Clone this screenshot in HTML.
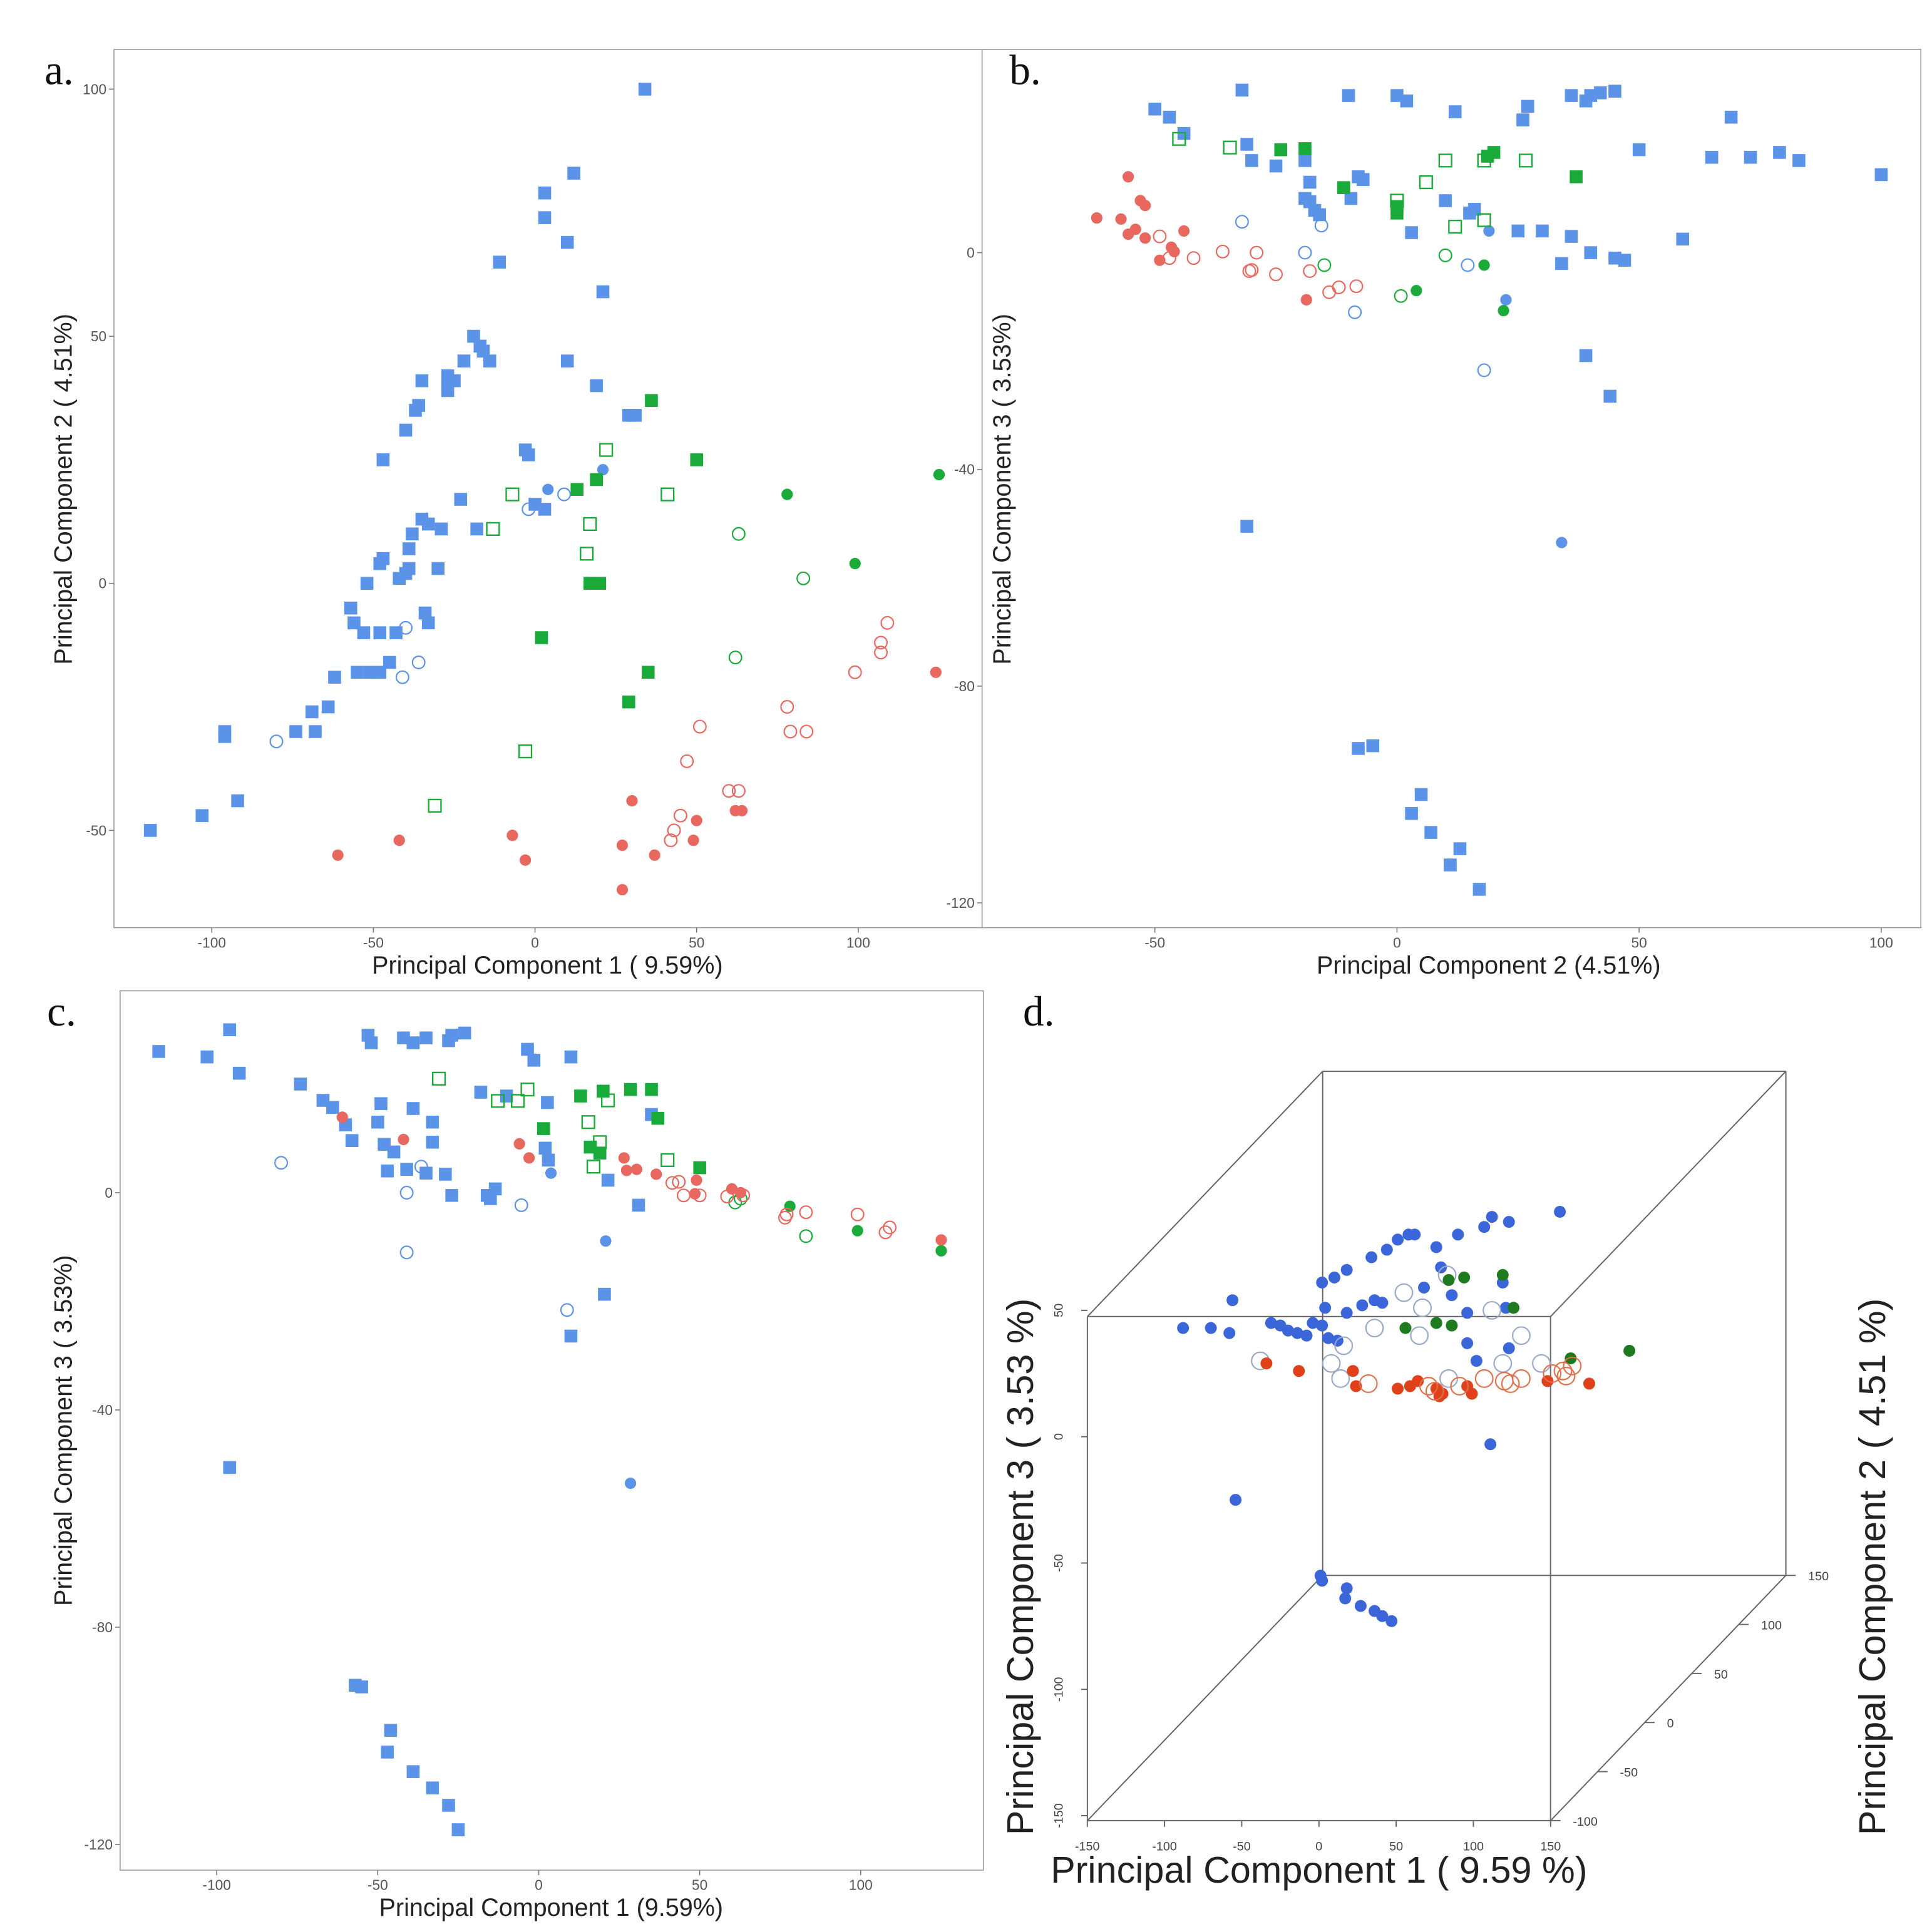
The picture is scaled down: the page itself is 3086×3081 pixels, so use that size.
<!DOCTYPE html>
<html><head><meta charset="utf-8"><style>
html,body{margin:0;padding:0;background:#fff;}
svg{display:block;}
text{font-family:"Liberation Sans",sans-serif;}
</style></head><body>
<svg id="fig" width="3086" height="3081" viewBox="0 0 1560 1557.5" preserveAspectRatio="none" xmlns="http://www.w3.org/2000/svg">
<rect x="0" y="0" width="1560" height="1557.5" fill="#fff"/>
</svg>
<script>
// ---------- Panel a: PC1 vs PC2 ----------
const aBlueSq=[[34,100],[12,83],[3,79],[3,74],[10,69],[-11,65],[21,59],[-19,50],[-17,48],[-16,47],[-14,45],[-22,45],[-25,41],[-27,42],[-27,40],[-27,39],[-35,41],[-36,36],[-37,35],[-40,31],[-47,25],[10,45],[19,40],[29,34],[31,34],[-3,27],[-2,26],[0,16],[3,15],[-18,11],[-23,17],[-35,13],[-33,12],[-29,11],[-38,10],[-39,7],[-39,3],[-30,3],[-48,4],[-47,5],[-52,0],[-42,1],[-40,2],[-34,-6],[-33,-8],[-57,-5],[-56,-8],[-53,-10],[-48,-10],[-43,-10],[-45,-16],[-48,-18],[-51,-18],[-49,-18],[-55,-18],[-62,-19],[-64,-25],[-69,-26],[-68,-30],[-74,-30],[-96,-30],[-96,-31],[-92,-44],[-103,-47],[-119,-50]];
const aBlueC=[[4,19],[21,23]];
const aBlueO=[[-2,15],[9,18],[-40,-9],[-36,-16],[-41,-19],[-80,-32]];
const aGreenSq=[[36,37],[13,19],[19,21],[50,25],[17,0],[18,0],[20,0],[2,-11],[35,-18],[29,-24]];
const aGreenSqO=[[22,27],[-7,18],[41,18],[-13,11],[17,12],[16,6],[-3,-34],[-31,-45]];
const aGreenC=[[78,18],[125,22],[99,4]];
const aGreenO=[[63,10],[83,1],[62,-15]];
const aRedC=[[-61,-55],[-42,-52],[-7,-51],[-3,-56],[30,-44],[27,-53],[37,-55],[49,-52],[50,-48],[62,-46],[64,-46],[27,-62],[124,-18]];
const aRedO=[[109,-8],[107,-12],[107,-14],[99,-18],[78,-25],[79,-30],[84,-30],[51,-29],[47,-36],[60,-42],[63,-42],[45,-47],[43,-50],[42,-52]];
const aXTicks=[-100,-50,0,50,100];
const aYTicks=[100,50,0,-50];

// ---------- Panel b: PC2 vs PC3 ----------
const bBlueSq=[[-32,30],[-50,26.5],[-47,25],[-44,22],[-10,29],[0,29],[2,28],[12,26],[27,27],[26,24.5],[36,29],[39,28],[40,29],[42,29.5],[45,29.8],[69,25],[50,19],[65,17.6],[73,17.6],[79,18.5],[83,17],[100,14.4],[-31,20],[-30,17],[-24,19],[-25,16],[-19,17],[-18,13],[-19,10],[-18,9.4],[-17,7.8],[-16,7],[-8,14],[-7,13.5],[-9.5,10],[3,3.7],[10,9.6],[15,7.3],[16,8],[25,4],[30,4],[36,3],[34,-2],[40,0],[45,-1],[47,-1.4],[59,2.5],[39,-19],[44,-26.5],[-31,-50.5],[-8,-91.5],[-5,-91],[5,-100],[3,-103.5],[7,-107],[13,-110],[11,-113],[17,-117.5]];
const bBlueC=[[19,4],[22.5,-8.7],[34,-53.5]];
const bBlueO=[[-32,5.7],[-15.6,5],[-19,0],[-8.7,-11],[14.6,-2.3],[18,-21.7]];
const bGreenSq=[[-24,19],[-19,19.2],[-11,12],[0,8.5],[0,7.3],[18.7,17.8],[20,18.5],[37,14]];
const bGreenSqO=[[-45,21],[-34.5,19.4],[0,9.6],[6,13],[10,17],[18,17],[26.6,17],[12,4.8],[18,6]];
const bGreenC=[[4,-7],[18,-2.3],[22,-10.7]];
const bGreenO=[[-15,-2.3],[10,-0.5],[0.8,-8]];
const bRedC=[[-62,6.4],[-55.5,14],[-57,6.2],[-55.5,3.4],[-54,4.3],[-53,9.6],[-52,8.7],[-52,2.7],[-49,-1.4],[-46.6,1],[-46,0.2],[-44,4],[-18.7,-8.7]];
const bRedO=[[-49,3],[-47,-1],[-42,-1],[-36,0.2],[-29,0],[-30,-3.2],[-30.5,-3.4],[-25,-4],[-18,-3.4],[-14,-7.3],[-12,-6.4],[-8.4,-6.2]];
const bXTicks=[-50,0,50,100];
const bYTicks=[0,-40,-80,-120];

// ---------- Panel c: PC1 vs PC3 ----------
const cBlueSq=[[-118,26],[-103,25],[-96,30],[-93,22],[-74,20],[-67,17],[-64,15.7],[-60,12.5],[-58,9.6],[-53,29],[-52,27.6],[-42,28.5],[-39,27.6],[-35,28.5],[-28,28],[-27,29],[-23,29.4],[-3.5,26.4],[-1.5,24.4],[10,25],[-49,16.4],[-39,15.5],[-33,13],[-33,9.3],[-50,13],[-48,8.9],[-45,7.5],[-47,4],[-41,4.3],[-35,3.6],[-29,3.4],[-27,-0.5],[-18,18.5],[-10,17.8],[-13.5,0.7],[-15,-1.1],[-16,-0.5],[2.7,16.6],[2,8.2],[3,6],[21.5,2.3],[31,-2.3],[35,14.4],[20.4,-18.7],[10,-26.4],[-96,-50.6],[-57,-90.7],[-55,-91],[-46,-99],[-47,-103],[-39,-106.6],[-33,-109.6],[-28,-112.8],[-25,-117.3]];
const cBlueC=[[3.8,3.6],[20.8,-8.9],[28.5,-53.5]];
const cBlueO=[[-80,5.5],[-36.5,4.8],[-41,0],[-5.4,-2.3],[-41,-11],[8.8,-21.6]];
const cGreenSq=[[13,17.8],[20,18.7],[28.5,19],[35,19],[37,13.7],[1.5,11.8],[16,8.4],[19,7.3],[50,4.6]];
const cGreenSqO=[[-31,21],[-12.7,16.9],[-6.5,16.9],[-3.5,19],[21.5,17],[15.4,13],[19,9.3],[17,4.8],[40,6]];
const cGreenC=[[78,-2.5],[99,-7],[125,-10.7]];
const cGreenO=[[61,-1.8],[62.7,-1.1],[83,-8]];
const cRedC=[[-61,13.9],[-42,9.8],[-6,9],[-3,6.4],[26.5,6.4],[27.3,4.1],[30.4,4.3],[36.5,3.4],[49,2.3],[48.5,-0.2],[60,0.7],[62.7,0],[125,-8.7]];
const cRedO=[[43.5,2],[41.5,1.8],[45,-0.5],[50,-0.5],[58.5,-0.7],[63.5,-0.5],[76.5,-4.6],[77,-4],[83,-3.6],[99,-4],[107.7,-7.3],[109,-6.4]];
const cXTicks=[-100,-50,0,50,100];
const cYTicks=[0,-40,-80,-120];

// ---------- Panel d: 3D (projected PC1 / PC3) ----------
const dBlue=[[156,89],[123,85],[112,87],[107,83],[90,80],[76,75],[62,80],[58,80],[51,78],[44,74],[34,71],[18,66],[10,63],[2,61],[79,67],[68,59],[86,56],[119,61],[41,53],[28,52],[18,49],[4,51],[-4,45],[2,44],[6,39],[12,38],[-31,45],[-25,44],[-20,42],[-14,41],[-8,40],[-56,54],[-88,43],[-70,43],[-58,41],[96,37],[102,30],[123,35],[111,-3],[-54,-25],[1,-55],[2,-57],[18,-60],[17,-64],[27,-67],[36,-69],[41,-71],[47,-73],[36,54],[121,51],[96,49]];
const dBlueO=[[16,36],[36,43],[65,40],[55,57],[67,51],[112,50],[131,40],[-38,30],[8,29],[14,23],[84,23],[119,29],[144,29],[83,64]];
const dGreen=[[84,62],[94,63],[119,64],[126,51],[76,45],[86,44],[56,43],[163,31],[201,34]];
const dRed=[[-34,29],[-13,26],[22,26],[24,20],[51,19],[59,20],[64,22],[76,19],[80,17],[96,20],[99,17],[148,22],[175,21],[78,16]];
const dRedO=[[32,21],[71,20],[75,18],[91,20],[107,23],[120,22],[124,21],[151,25],[158,26],[164,28],[160,24],[131,23]];
const dXTicks=[-150,-100,-50,0,50,100,150];
const dYTicks=[50,0,-50,-100,-150];
const dZTicks=[-100,-50,0,50,100,150];

const NS="http://www.w3.org/2000/svg";
const svg=document.getElementById('fig');
function mk(tag,attrs,parent){const e=document.createElementNS(NS,tag);for(const k in attrs)e.setAttribute(k,attrs[k]);(parent||svg).appendChild(e);return e;}
function txt(s,attrs,parent){const e=mk('text',attrs,parent);e.textContent=s;return e;}

const BLUE='#5b93e8',GREEN='#1aaa3a',RED='#e8675f';

function panel(id,cfg){
  const g=mk('g',{});
  
  
  const fr=mk('rect',{x:cfg.x0,y:cfg.y0,width:cfg.x1-cfg.x0,height:cfg.y1-cfg.y0,fill:'none',stroke:'#999','stroke-width':0.8},g);
  
  
  const sx=v=>cfg.px0+(v-cfg.vx0)*cfg.kx;
  const sy=v=>cfg.py0-(v-cfg.vy0)*cfg.ky;
  cfg.xt.forEach(t=>{
    mk('line',{x1:sx(t),x2:sx(t),y1:cfg.y1,y2:cfg.y1+4,stroke:'#777','stroke-width':0.8},g);
    const l=txt(String(t),{x:sx(t),y:cfg.y1+16,'font-size':11.5,fill:'#555','text-anchor':'middle'},g);
    
    
  });
  cfg.yt.forEach(t=>{
    mk('line',{x1:cfg.x0-4,x2:cfg.x0,y1:sy(t),y2:sy(t),stroke:'#777','stroke-width':0.8},g);
    const l=txt(String(t),{x:cfg.x0-6,y:sy(t)+4,'font-size':11.5,fill:'#555','text-anchor':'end'},g);
    
    
  });
  const xl=txt(cfg.xlab,{x:cfg.xlx,y:cfg.y1+37,'font-size':20,fill:'#222','text-anchor':'middle'},g);
  
  
  const yl=txt(cfg.ylab,{x:0,y:0,'font-size':20,fill:'#222','text-anchor':'middle',transform:`translate(${cfg.ylx},${cfg.yly}) rotate(-90)`},g);
  
  
  cfg.series.forEach(s=>{
    s.d.forEach(p=>{
      const X=sx(p[0]),Y=sy(p[1]);let m;
      if(s.sq){const h=s.open?5:5.2;m=mk('rect',{x:X-h,y:Y-h,width:2*h,height:2*h,fill:s.open?'none':s.c,stroke:s.c,'stroke-width':s.open?1.2:0},g);}
      else{m=mk('circle',{cx:X,cy:Y,r:s.open?5:4.6,fill:s.open?'none':s.c,stroke:s.c,'stroke-width':s.open?1.1:0},g);}
      
      
    });
  });
}
function ser(b,bc,bo,gs,gso,gc,go,rc,ro){return[
 {d:b,c:BLUE,sq:1,n:'blue-square-point'},{d:bc,c:BLUE,n:'blue-circle-point'},{d:bo,c:BLUE,open:1,n:'blue-open-circle-point'},
 {d:gs,c:GREEN,sq:1,n:'green-square-point'},{d:gso,c:GREEN,sq:1,open:1,n:'green-open-square-point'},
 {d:gc,c:GREEN,n:'green-circle-point'},{d:go,c:GREEN,open:1,n:'green-open-circle-point'},
 {d:rc,c:RED,n:'red-circle-point'},{d:ro,c:RED,open:1,n:'red-open-circle-point'}];}

panel('a',{x0:92,x1:793,y0:40,y1:749,px0:432,vx0:0,kx:2.61,py0:471,vy0:0,ky:3.99,xt:aXTicks,yt:aYTicks,
 xlab:'Principal Component 1 ( 9.59%)',xlx:442,ylab:'Principal Component 2 ( 4.51%)',ylx:58,yly:395,
 series:ser(aBlueSq,aBlueC,aBlueO,aGreenSq,aGreenSqO,aGreenC,aGreenO,aRedC,aRedO)});
panel('b',{x0:793,x1:1551,y0:40,y1:749,px0:1128,vx0:0,kx:3.91,py0:204,vy0:0,ky:4.375,xt:bXTicks,yt:bYTicks,
 xlab:'Principal Component 2 (4.51%)',xlx:1202,ylab:'Principal Component 3 ( 3.53%)',ylx:816,yly:395,
 series:ser(bBlueSq,bBlueC,bBlueO,bGreenSq,bGreenSqO,bGreenC,bGreenO,bRedC,bRedO)});
panel('c',{x0:97,x1:794,y0:800,y1:1510,px0:435,vx0:0,kx:2.6,py0:963,vy0:0,ky:4.385,xt:cXTicks,yt:cYTicks,
 xlab:'Principal Component 1 (9.59%)',xlx:445,ylab:'Principal Component 3 ( 3.53%)',ylx:58,yly:1155,
 series:ser(cBlueSq,cBlueC,cBlueO,cGreenSq,cGreenSqO,cGreenC,cGreenO,cRedC,cRedO)});

// Panel d box
(function(){
  const g=mk('g',{});
  
  
  const L=[[878,1063,1252,1063],[1252,1063,1252,1470],[1252,1470,878,1470],[878,1470,878,1063],
   [1068,865,1442,865],[1442,865,1442,1272],[1442,1272,1068,1272],[1068,1272,1068,865],
   [878,1063,1068,865],[1252,1063,1442,865],[1252,1470,1442,1272],[878,1470,1068,1272]];
  L.forEach(l=>{const e=mk('line',{x1:l[0],y1:l[1],x2:l[2],y2:l[3],stroke:'#666','stroke-width':1},g);
    });
  const sx=v=>1065+v*1.247, sy=v=>1160-v*2.04;
  dXTicks.forEach(t=>{mk('line',{x1:sx(t),x2:sx(t),y1:1470,y2:1475,stroke:'#666'},g);
    const l=txt(String(t),{x:sx(t),y:1494,'font-size':10,fill:'#444','text-anchor':'middle'},g);
    });
  dYTicks.forEach(t=>{mk('line',{x1:873,x2:878,y1:sy(t),y2:sy(t),stroke:'#666'},g);
    const l=txt(String(t),{x:0,y:0,'font-size':10,fill:'#444','text-anchor':'middle',transform:`translate(858,${sy(t)}) rotate(-90)`},g);
    });
  const zx=v=>1252+(v+100)/250*190+12, zy=v=>1470-(v+100)/250*198;
  dZTicks.forEach(t=>{mk('line',{x1:zx(t)-12,x2:zx(t)-4,y1:zy(t),y2:zy(t),stroke:'#666'},g);
    const l=txt(String(t),{x:zx(t)+6,y:zy(t)+4,'font-size':10,fill:'#444'},g);
    });
  const s=[{d:dBlue,c:'#3a66d9',n:'d-blue-point'},{d:dBlueO,c:'#9aa8c8',o:1,n:'d-open-point'},{d:dGreen,c:'#1e7a1e',n:'d-green-point'},{d:dRed,c:'#e0401a',n:'d-red-point'},{d:dRedO,c:'#e0704a',o:1,n:'d-red-open-point'}];
  s.forEach(q=>q.d.forEach(p=>{const m=mk('circle',{cx:sx(p[0]),cy:sy(p[1]),r:q.o?7:4.8,fill:q.o?'none':q.c,stroke:q.c,'stroke-width':q.o?1.1:0},g);
    }));
  const t1=txt('Principal Component 1 ( 9.59 %)',{x:1065,y:1520,'font-size':30,fill:'#222','text-anchor':'middle'},g);
  
  const t2=txt('Principal Component 3 ( 3.53 %)',{x:0,y:0,'font-size':30,fill:'#222','text-anchor':'middle',transform:'translate(834,1265) rotate(-90)'},g);
  
  const t3=txt('Principal Component 2 ( 4.51 %)',{x:0,y:0,'font-size':30,fill:'#222','text-anchor':'middle',transform:'translate(1522,1265) rotate(-90)'},g);
  
})();

[['a.',36,68],['b.',815,68],['c.',38,828],['d.',826,828]].forEach(p=>{
  const e=txt(p[0],{x:p[1],y:p[2],'font-size':34,fill:'#111',style:'font-family:"Liberation Serif",serif'});
  
  
});
</script>
</body></html>
